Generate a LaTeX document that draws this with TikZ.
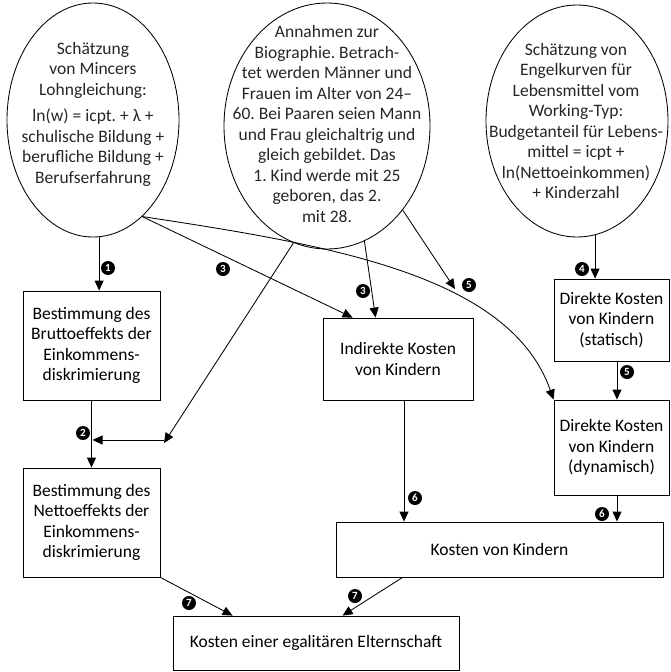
\documentclass[tikz,border=0pt]{standalone}
\usepackage{fontspec}
\setmainfont{Carlito}
\usetikzlibrary{shapes.geometric,arrows.meta}
\frenchspacing

\begin{document}
\begin{tikzpicture}[x=1pt,y=-1pt,line width=0.85pt,
	font=\fontsize{17.5}{20.5}\selectfont,
	blase/.style={draw, ellipse, inner sep=0pt},
	kasten/.style={draw, rectangle, align=center, inner sep=2pt},
	pfeil/.style={-{Triangle[length=10pt,width=9pt]}},
	nummer/.style={circle, fill=black, text=white, inner sep=0pt, minimum size=14pt,
		font=\fontsize{11}{11}\selectfont\bfseries}]
	\useasboundingbox (0,0) rectangle (670,672);
	
	% ellipses
	\node[blase, minimum width=172, minimum height=234] (mincer) at (93,120) {};
	\node[align=center, text=black!85] (mincer-text) at (93,114) {Schätzung\\von Mincers\\Lohngleichung:\\[6pt]ln(w) = icpt. + λ +\\schulische Bildung +\\berufliche Bildung +\\Berufserfahrung};
	
	\node[blase, minimum width=206, minimum height=246] (annahmen) at (327,126) {};
	\node[align=center, text=black!85] (annahmen-text) at (327,124) {Annahmen zur\\Biographie. Betrach-\\tet werden Männer und\\Frauen im Alter von 24--\\60. Bei Paaren seien Mann\\und Frau gleichaltrig und\\gleich gebildet. Das\\1. Kind werde mit 25\\geboren, das 2.\\mit 28.};
	
	\node[blase, minimum width=182, minimum height=232] (engel) at (577,121) {};
	\node[align=center, text=black!85] (engel-text) at (576,121) {Schätzung von\\Engelkurven für\\Lebensmittel vom\\Working-Typ:\\Budgetanteil für Lebens-\\mittel = icpt +\\ln(Nettoeinkommen)\\+ Kinderzahl};
	
	% boxes
	\node[kasten, minimum width=137, minimum height=109] (brutto) at (91.5,345.5) {Bestimmung des\\Bruttoeffekts der\\Einkommens-\\diskrimierung};
	\node[kasten, minimum width=137, minimum height=109] (netto) at (91.5,522.5) {Bestimmung des\\Nettoeffekts der\\Einkommens-\\diskrimierung};
	\node[kasten, minimum width=150, minimum height=82] (indirekt) at (398,359) {Indirekte Kosten\\von Kindern};
	\node[kasten, minimum width=115, minimum height=82] (statisch) at (611.5,320) {Direkte Kosten\\von Kindern\\(statisch)};
	\node[kasten, minimum width=115, minimum height=95] (dynamisch) at (611.5,447.5) {Direkte Kosten\\von Kindern\\(dynamisch)};
	\node[kasten, minimum width=327, minimum height=55] (kosten) at (499.5,549.5) {Kosten von Kindern};
	\node[kasten, minimum width=286, minimum height=54] (eltern) at (316,643) {Kosten einer egalitären Elternschaft};
	
	% arrows
	\draw[pfeil] (mincer.-87) -- (mincer.-87 |- brutto.north);
	\draw[pfeil] (brutto) -- (netto);
	\coordinate (knick) at (164,440);
	\draw[pfeil] (annahmen.-106) -- ([yshift=-3]knick);
	\draw[pfeil, shorten >=1pt] (knick) -- (knick -| netto.north);
	\draw[pfeil] (mincer.-63) -- ([xshift=30]indirekt.north west);
	\draw[pfeil] (annahmen.-72) -- ([xshift=53]indirekt.north west);
	\draw[pfeil] (mincer.-63) .. controls (330,245) and (510,275) .. (dynamisch.north west);
	\coordinate (treff) at (455,289);
	\draw[pfeil] (annahmen.-48) -- (treff);
	\draw[pfeil] (engel.-81) -- (engel.-81 |- statisch.north);
	\draw[pfeil] ([xshift=5.5]statisch.south) -- ([xshift=5.5]dynamisch.north);
	\draw[pfeil] ([xshift=6]indirekt.south) -- ([xshift=6]indirekt.south |- kosten.north);
	\draw[pfeil] ([xshift=5.5]dynamisch.south) -- ([xshift=5.5]dynamisch.south |- kosten.north);
	\draw[pfeil] (netto.south east) -- ([xshift=60]eltern.north west);
	\draw[pfeil] ([xshift=67]kosten.south west) -- ([xshift=170]eltern.north west);
	
	% numbers
	\node[nummer] (n1) at (108,268) {1};
	\node[nummer] (n2) at (83,433) {2};
	\node[nummer] (n3a) at (223,269) {3};
	\node[nummer] (n3b) at (363,291) {3};
	\node[nummer] (n4) at (582,269) {4};
	\node[nummer] (n5a) at (469,285) {5};
	\node[nummer] (n5b) at (627,372) {5};
	\node[nummer] (n6a) at (415,498) {6};
	\node[nummer] (n6b) at (602,514) {6};
	\node[nummer] (n7a) at (189,603) {7};
	\node[nummer] (n7b) at (355,596) {7};
	
\end{tikzpicture}
\end{document}
